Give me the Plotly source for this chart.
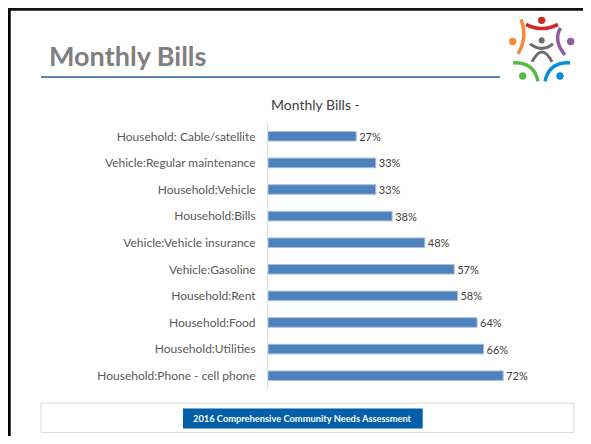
import plotly.graph_objects as go

categories = [
    "Household: Cable/satellite",
    "Vehicle:Regular maintenance",
    "Household:Vehicle",
    "Household:Bills",
    "Vehicle:Vehicle insurance",
    "Vehicle:Gasoline",
    "Household:Rent",
    "Household:Food",
    "Household:Utilities",
    "Household:Phone - cell phone",
]
values = [27, 33, 33, 38, 48, 57, 58, 64, 66, 72]
value_labels = [f"{v}%" for v in values]

slide_title = "Monthly Bills"
chart_title = "Monthly Bills -"
footer_text = "2016 Comprehensive Community Needs Assessment"

W, H = 591, 444
OFF = 8  # page body margin offset
FW, FH = W - 2 * OFF, H - 2 * OFF
PW, PH = 294, 265.6
L = 268 - OFF
T = 123 - OFF
R = FW - L - PW
B = FH - T - PH


def px(x):
    return (x - OFF - L) / PW


def py(y):
    return (FH - B - (y - OFF)) / PH


fig = go.Figure()
fig.add_trace(go.Bar(
    y=categories,
    x=values,
    orientation="h",
    text=value_labels,
    textposition="outside",
    constraintext="none",
    textfont=dict(family="Lato", size=11, color="#404040"),
    marker=dict(color="#4f81bd", line=dict(color="#a7c0e0", width=1)),
    cliponaxis=False,
    hoverinfo="skip",
))

shapes = []
# slide border
shapes.append(dict(type="line", xref="paper", yref="paper",
                   x0=px(9.2), x1=px(9.2), y0=py(8), y1=py(460),
                   line=dict(color="#000000", width=3)))
shapes.append(dict(type="line", xref="paper", yref="paper",
                   x0=px(8), x1=px(600), y0=py(9.5), y1=py(9.5),
                   line=dict(color="#111111", width=3)))
# title underline
shapes.append(dict(type="line", xref="paper", yref="paper",
                   x0=px(41), x1=px(500), y0=py(77), y1=py(77),
                   line=dict(color="#1f5d97", width=1.5)))
# footer
shapes.append(dict(type="rect", xref="paper", yref="paper",
                   x0=px(41), x1=px(574), y0=py(432), y1=py(402.7),
                   line=dict(color="#d9d9d9", width=1), fillcolor="rgba(0,0,0,0)"))
shapes.append(dict(type="rect", xref="paper", yref="paper",
                   x0=px(183), x1=px(422.7), y0=py(428), y1=py(408),
                   line=dict(width=0), fillcolor="#005fa8"))


def dot(cx, cy, r, color):
    return dict(type="circle", xref="paper", yref="paper",
                x0=px(cx - r), x1=px(cx + r), y0=py(cy + r), y1=py(cy - r),
                line=dict(width=0), fillcolor=color)


def arc(p0, c, p1, color, w=3.5):
    path = (f"M {px(p0[0])},{py(p0[1])} Q {px(c[0])},{py(c[1])} "
            f"{px(p1[0])},{py(p1[1])}")
    return dict(type="path", xref="paper", yref="paper", path=path,
                line=dict(color=color, width=w))


red, orange, purple, green, blue, grey = ("#cf2a2a", "#f5883a", "#8e5ea2",
                                         "#5cb947", "#0a8fd6", "#6d6e70")
shapes += [
    dot(541.7, 20.5, 3.7, red), arc((526, 24.5), (542, 33), (558, 24.5), red),
    dot(512.7, 41.7, 3.7, orange), arc((521, 19.5), (528, 37), (518, 54), orange),
    dot(570.7, 41.7, 3.7, purple), arc((560.5, 28), (553, 41), (565, 55), purple),
    dot(522.7, 76, 3.7, green), arc((513, 63), (534, 62), (538, 81.5), green),
    dot(560, 76, 3.7, blue), arc((545, 81.5), (549, 62), (570, 63), blue),
    dot(541.7, 40.5, 3, grey), arc((530, 44), (542, 53), (553, 44), grey, 3),
    arc((532, 62), (542, 42), (552, 62), grey, 3),
]

annotations = [
    dict(text=f"<b>{slide_title}</b>", xref="paper", yref="paper",
         x=px(47), y=py(56), xanchor="left", yanchor="middle", showarrow=False,
         font=dict(family="Lato", size=27, color="#7f7f7f")),
    dict(text=chart_title, xref="paper", yref="paper",
         x=px(269), y=py(104.5), xanchor="left", yanchor="middle", showarrow=False,
         font=dict(family="Lato", size=14, color="#404040")),
    dict(text=f"<b>{footer_text}</b>", xref="paper", yref="paper",
         x=px(302.8), y=py(418), xanchor="center", yanchor="middle", showarrow=False,
         font=dict(family="Lato", size=9.3, color="#ffffff")),
]

fig.update_layout(
    width=FW, height=FH,
    margin=dict(l=L, r=R, t=T, b=B, pad=0),
    paper_bgcolor="#ffffff", plot_bgcolor="#ffffff",
    showlegend=False,
    bargap=0.64,
    shapes=shapes,
    annotations=annotations,
    xaxis=dict(range=[0, 90], visible=False, fixedrange=True),
    yaxis=dict(autorange="reversed", showline=True, linecolor="#d9d9d9", linewidth=1,
               showgrid=False, zeroline=False, ticks="", ticklabelstandoff=9,
               tickfont=dict(family="Lato", size=12, color="#595959"), fixedrange=True),
)

fig.write_html("out.html")
